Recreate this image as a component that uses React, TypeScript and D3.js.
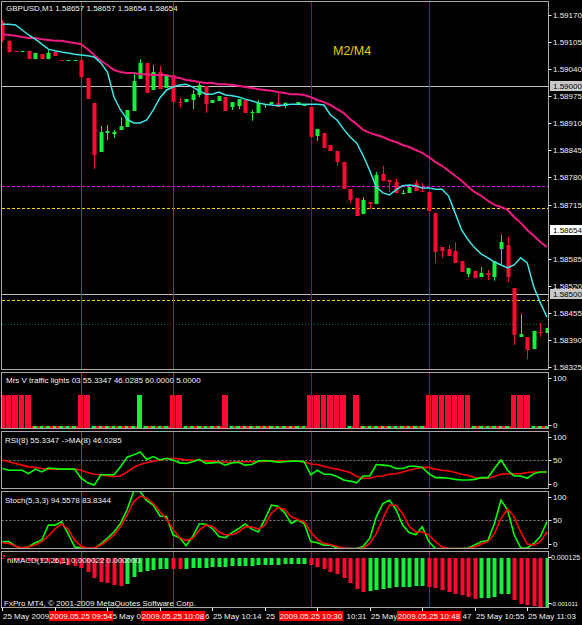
import React from 'react';
import * as d3 from 'd3';

// GBPUSD M1 candles: [open, high, low, close]
const candles: number[][] = [
  [1.59153, 1.59158, 1.59105, 1.5911], [1.59108, 1.5911, 1.59079, 1.59081], [1.59084, 1.59084, 1.59081, 1.59081],
  [1.59081, 1.59084, 1.59081, 1.59084], [1.59084, 1.59084, 1.59064, 1.59064], [1.59064, 1.59079, 1.59064, 1.59079],
  [1.59076, 1.59076, 1.59064, 1.59064], [1.59064, 1.59086, 1.59064, 1.59079], [1.59081, 1.59084, 1.59072, 1.59072],
  [1.59062, 1.59062, 1.5906, 1.5906], [1.5906, 1.59062, 1.5906, 1.59062], [1.5906, 1.59062, 1.5906, 1.59062],
  [1.59062, 1.59062, 1.59021, 1.59021], [1.59019, 1.59019, 1.58968, 1.58968], [1.58959, 1.58959, 1.588, 1.58834],
  [1.58841, 1.58904, 1.58841, 1.58889], [1.58887, 1.58906, 1.5887, 1.58892], [1.58885, 1.58894, 1.58875, 1.58889],
  [1.58894, 1.58925, 1.58894, 1.58904], [1.58902, 1.58942, 1.58902, 1.58942], [1.5894, 1.59033, 1.5894, 1.59012],
  [1.59016, 1.59064, 1.59016, 1.59055], [1.59055, 1.59055, 1.58983, 1.58983], [1.5899, 1.5905, 1.5899, 1.59033],
  [1.59033, 1.59048, 1.58992, 1.58992], [1.58995, 1.59024, 1.58995, 1.59024], [1.59026, 1.59026, 1.58961, 1.58961],
  [1.58961, 1.58971, 1.58949, 1.58959], [1.58961, 1.58968, 1.58961, 1.58968], [1.58966, 1.5899, 1.58944, 1.5898],
  [1.58978, 1.59007, 1.58973, 1.59002], [1.59, 1.59, 1.58935, 1.58956], [1.58959, 1.58966, 1.58959, 1.58966],
  [1.58964, 1.58976, 1.58964, 1.58976], [1.58973, 1.58973, 1.5894, 1.5894], [1.58949, 1.58961, 1.58942, 1.58961],
  [1.58952, 1.58968, 1.58944, 1.58968], [1.58966, 1.58966, 1.58935, 1.58935], [1.58935, 1.58942, 1.58916, 1.58937],
  [1.58935, 1.58966, 1.58935, 1.58959], [1.58954, 1.58956, 1.58947, 1.58956], [1.58956, 1.58961, 1.58956, 1.58961],
  [1.58959, 1.58983, 1.58949, 1.58949], [1.58952, 1.58961, 1.58947, 1.58959], [1.58954, 1.58956, 1.58954, 1.58956],
  [1.58954, 1.58961, 1.58954, 1.58961], [1.58952, 1.58956, 1.58952, 1.58956], [1.58949, 1.58949, 1.58877, 1.58877],
  [1.5888, 1.58896, 1.58868, 1.58896], [1.58887, 1.58887, 1.58851, 1.58851], [1.58858, 1.58858, 1.58844, 1.58844],
  [1.58844, 1.58844, 1.58808, 1.58817], [1.58817, 1.58817, 1.58752, 1.58752], [1.58752, 1.58752, 1.58719, 1.58726],
  [1.58731, 1.58731, 1.58688, 1.58688], [1.58692, 1.58733, 1.58692, 1.58726], [1.58721, 1.58721, 1.58704, 1.58716],
  [1.58716, 1.58793, 1.58716, 1.58786], [1.58788, 1.58808, 1.58772, 1.58772], [1.58774, 1.58774, 1.58745, 1.58769],
  [1.58769, 1.58776, 1.58743, 1.58743], [1.5874, 1.5875, 1.5874, 1.58743], [1.58743, 1.58757, 1.58743, 1.58757],
  [1.58767, 1.58774, 1.58748, 1.58748], [1.58748, 1.58767, 1.58745, 1.58745], [1.58745, 1.58745, 1.587, 1.587],
  [1.58695, 1.58695, 1.58575, 1.58601], [1.58613, 1.58613, 1.58587, 1.58604], [1.58608, 1.58618, 1.58592, 1.58592],
  [1.58604, 1.58625, 1.58575, 1.58575], [1.5858, 1.5858, 1.58554, 1.58554], [1.58548, 1.58563, 1.58541, 1.58563],
  [1.58556, 1.58556, 1.58539, 1.58539], [1.58541, 1.58565, 1.58541, 1.58551], [1.58551, 1.58558, 1.58534, 1.58546],
  [1.58541, 1.5858, 1.58532, 1.5858], [1.58608, 1.58642, 1.5857, 1.58625], [1.58618, 1.58637, 1.58529, 1.58541],
  [1.58515, 1.58515, 1.58378, 1.58402], [1.58397, 1.58452, 1.58397, 1.58404], [1.58397, 1.58397, 1.58344, 1.58366],
  [1.58368, 1.58412, 1.58368, 1.58412], [1.58409, 1.58431, 1.58397, 1.58407], [1.58407, 1.58419, 1.58407, 1.58419],
];

// fast moving average (cyan)
const maFast = [
  1.59148, 1.59148, 1.59146, 1.59134, 1.59122, 1.59112, 1.591, 1.59088, 1.59084, 1.59081,
  1.59079, 1.59076, 1.59074, 1.59072, 1.59069, 1.59055, 1.59033, 1.58973, 1.58942, 1.5892,
  1.58911, 1.58911, 1.58918, 1.58942, 1.58971, 1.5899, 1.58997, 1.59002, 1.59004, 1.58997,
  1.58988, 1.5898, 1.5898, 1.58985, 1.58978, 1.58976, 1.58973, 1.58968, 1.58964, 1.58959,
  1.58956, 1.58954, 1.58952, 1.58954, 1.58956, 1.58956, 1.58956, 1.58956, 1.58956, 1.58954,
  1.5893, 1.58918, 1.58896, 1.58877, 1.58863, 1.58832, 1.58796, 1.58757, 1.58743, 1.58738,
  1.5875, 1.5876, 1.58762, 1.5876, 1.58755, 1.58755, 1.58752, 1.58752, 1.58736, 1.58695,
  1.58654, 1.5863, 1.58611, 1.58596, 1.58587, 1.58577, 1.5857, 1.58563, 1.5857, 1.58587,
  1.58575, 1.58517, 1.58479, 1.58445,
];

// slow moving average (magenta)
const maSlow = [
  1.59124, 1.59122, 1.5912, 1.59117, 1.59115, 1.59115, 1.59112, 1.5911, 1.59108, 1.59108,
  1.59105, 1.59103, 1.591, 1.59088, 1.59074, 1.5906, 1.5905, 1.59038, 1.59033, 1.59031,
  1.59031, 1.59028, 1.59028, 1.59026, 1.59026, 1.59026, 1.59021, 1.59019, 1.59014, 1.59012,
  1.59009, 1.59007, 1.59007, 1.59004, 1.59004, 1.59002, 1.59, 1.58997, 1.58995, 1.58992,
  1.5899, 1.58988, 1.58985, 1.58983, 1.5898, 1.5898, 1.58978, 1.58973, 1.58966, 1.58961,
  1.58954, 1.58944, 1.58935, 1.5892, 1.58908, 1.58894, 1.58887, 1.58882, 1.58877, 1.5887,
  1.58865, 1.58858, 1.58853, 1.58846, 1.58839, 1.58829, 1.58817, 1.58808, 1.58796, 1.58784,
  1.58772, 1.58757, 1.58745, 1.58736, 1.58724, 1.58714, 1.58709, 1.58702, 1.58685, 1.58671,
  1.58654, 1.5864, 1.58625, 1.58613,
];

// Mrs V traffic lights
const lightRed = [
  60, 60, 60, 60, 60, 0, 0, 0, 0, 0, 0, 0, 60, 60, 0, 0, 0, 0, 0, 0,
  0, 0, 0, 0, 0, 0, 60, 60, 0, 0, 0, 0, 0, 0, 60, 0, 0, 0, 0, 0,
  0, 0, 0, 0, 0, 0, 0, 60, 60, 60, 60, 60, 60, 0, 60, 0, 0, 0, 0, 0,
  0, 0, 0, 0, 0, 60, 60, 60, 60, 60, 60, 60, 0, 0, 0, 0, 0, 0, 60, 60,
  60, 0, 0, 0,
];
const lightGreen = [
  0, 0, 0, 0, 0, 5, 5, 5, 5, 5, 5, 5, 0, 0, 5, 5, 5, 5, 5, 5,
  5, 60, 5, 5, 5, 5, 0, 0, 5, 5, 5, 5, 5, 5, 0, 5, 5, 5, 5, 5,
  5, 5, 5, 5, 5, 5, 5, 0, 0, 0, 0, 0, 0, 5, 0, 5, 5, 5, 5, 5,
  5, 5, 5, 5, 5, 0, 0, 0, 0, 0, 0, 0, 5, 5, 5, 5, 5, 5, 0, 0,
  0, 5, 5, 5,
];

const rsi = [
  35, 32, 32, 32, 26, 34, 29, 36, 35, 34, 34, 34, 18, 10, 6, 24, 24, 24, 38, 55,
  59, 64, 51, 56, 50, 53, 50, 45, 44, 47, 51, 44, 45, 46, 41, 45, 46, 41, 42, 48,
  49, 48, 46, 47, 48, 48, 47, 24, 32, 25, 25, 21, 15, 13, 10, 22, 22, 42, 41, 40,
  35, 35, 39, 39, 37, 26, 19, 19, 18, 16, 15, 15, 16, 19, 19, 35, 50, 32, 22, 22,
  18, 26, 29, 29,
];
const rsiMa = [
  50, 47, 44, 41, 38, 37, 35, 34, 34, 34, 34, 34, 32, 28, 25, 24, 22, 21, 22, 29,
  37, 42, 45, 48, 50, 52, 53, 52, 50, 50, 49, 48, 48, 47, 46, 46, 47, 47, 47, 47,
  48, 48, 48, 48, 48, 48, 47, 43, 42, 39, 36, 34, 31, 28, 21, 18, 18, 21, 22, 25,
  26, 29, 32, 35, 37, 37, 34, 32, 31, 28, 25, 23, 19, 18, 18, 21, 25, 26, 26, 26,
  28, 29, 29, 29,
];

const stochK = [
  12, 12, 4, 1, 3, 10, 15, 41, 41, 47, 26, 3, 1, 0, 0, 8, 18, 29, 44, 68,
  100, 100, 84, 76, 57, 56, 24, 19, 5, 21, 43, 43, 35, 21, 19, 28, 35, 43, 34, 29,
  51, 76, 74, 63, 44, 50, 44, 12, 10, 6, 6, 1, 0, 0, 0, 4, 18, 56, 79, 85,
  68, 41, 28, 24, 38, 12, 0, 0, 0, 0, 0, 1, 6, 12, 14, 44, 85, 68, 24, 1,
  1, 9, 21, 47,
];
const stochD = [
  10, 9, 4, 1, 3, 6, 12, 22, 34, 43, 34, 15, 4, 1, 1, 6, 14, 24, 38, 59,
  82, 92, 88, 79, 65, 52, 34, 19, 14, 18, 32, 41, 39, 29, 24, 24, 29, 38, 38, 34,
  41, 62, 72, 69, 56, 51, 47, 29, 16, 9, 7, 4, 1, 0, 0, 1, 9, 26, 53, 76,
  76, 61, 39, 29, 29, 24, 12, 3, 0, 0, 0, 0, 3, 8, 12, 26, 53, 69, 56, 29,
  8, 6, 12, 29,
];

const macd = [
  -0.00003, -0.000035, -0.000045, -0.00005, -0.00006, -0.000066, -0.000075, -0.00008, -0.0001, -0.000127,
  -0.000148, -0.000168, -0.000216, -0.000285, -0.000421, -0.000491, -0.000524, -0.000545, -0.00057, -0.000535,
  -0.000397, -0.000285, -0.000265, -0.00025, -0.000236, -0.000225, -0.000235, -0.00024, -0.000225, -0.000212,
  -0.000205, -0.0002, -0.000192, -0.000185, -0.00018, -0.000176, -0.00017, -0.000166, -0.00016, -0.000156,
  -0.00015, -0.000146, -0.000142, -0.000136, -0.00013, -0.000124, -0.00012, -0.00015, -0.000183, -0.00023,
  -0.000285, -0.000333, -0.000421, -0.000524, -0.000627, -0.000696, -0.00068, -0.00066, -0.00064, -0.000625,
  -0.000605, -0.000595, -0.000585, -0.00057, -0.000565, -0.00059, -0.00062, -0.000648, -0.000696, -0.00073,
  -0.000764, -0.000799, -0.000832, -0.000825, -0.000815, -0.00079, -0.000745, -0.00073, -0.00085, -0.00094,
  -0.00097, -0.00099, -0.001011, -0.001,
];

const priceTicks = [
  1.5917, 1.59105, 1.5904, 1.58975, 1.5891, 1.58845, 1.5878, 1.58715,
  1.58585, 1.5852, 1.58455, 1.5839, 1.58325,
];
const markedPrices = [1.59, 1.58654, 1.585];

const levelSilver = [1.59, 1.585];
const levelMagenta = [1.5876];
const levelGold = [1.58707, 1.58486];
const levelGreen = [1.58428];

const timeTickBars = [0, 8, 16, 24, 32, 40, 48, 56, 64, 72, 80];
const timeTickText = [
  '25 May 2009', '25 May 09:50', '25 May 09:58', '25 May 10:06', '25 May 10:14', '25 May 10:23',
  '25 May 10:31', '25 May 10:39', '25 May 10:47', '25 May 10:55', '25 May 11:03',
];

const vlineBars = [12, 26, 47, 65];
const vlineText = ['2009.05.25 09:54', '2009.05.25 10:08', '2009.05.25 10:30', '2009.05.25 10:48'];

const FONT = '"Liberation Sans", Arial, sans-serif';
const RED = '#ff0a32';
const GREEN = '#14f03c';
const FRAME = '#a8a8a8';
const TXT = '#f0f0f0';
const BOX_HALF = 32;

const panels = [
  { id: 'main', top: 1.5, bottom: 369.5 },
  { id: 'lights', top: 372.5, bottom: 428.5 },
  { id: 'rsi', top: 431.5, bottom: 488.5 },
  { id: 'stoch', top: 491.5, bottom: 548.5 },
  { id: 'macd', top: 551.5, bottom: 607.5 },
];
const LEFT = 1.5;
const RIGHT = 548.5;

let measureCtx: CanvasRenderingContext2D | null = null;
function measure(s: string) {
  if (!measureCtx) {
    measureCtx = document.createElement('canvas').getContext('2d');
    if (measureCtx) measureCtx.font = '8px "Liberation Sans", Arial, sans-serif';
  }
  return measureCtx ? measureCtx.measureText(s).width : s.length * 4.4;
}

// pieces of a time label that are not covered by the red vertical-line boxes
function visibleRuns(text: string, x0: number, boxes: number[][]) {
  const runs: { x: number; s: string }[] = [];
  let cur: { x: number; s: string } | null = null;
  for (let k = 0; k < text.length; k++) {
    const a = x0 + measure(text.slice(0, k));
    const b = x0 + measure(text.slice(0, k + 1));
    const mid = (a + b) / 2;
    const hidden = boxes.some(([l, r]) => mid > l - 1 && mid < r + 1);
    if (!hidden) {
      if (!cur) cur = { x: a, s: '' };
      cur.s += text[k];
    } else if (cur) {
      runs.push(cur);
      cur = null;
    }
  }
  if (cur) runs.push(cur);
  return runs
    .map((r) => {
      const lead = r.s.length - r.s.trimStart().length;
      return { x: r.x + measure(r.s.slice(0, lead)), s: r.s.trim() };
    })
    .filter((r) => r.s.length > 0);
}

export default function App() {
  const x = d3.scaleLinear().domain([0, 83]).range([2.44, 546.92]);
  const step = x(1) - x(0);
  const yMain = d3.scaleLinear().domain([1.5917, 1.58325]).range([15, 367]);
  const yLights = d3.scaleLinear().domain([0, 100]).range([428.5, 372.5]);
  const yRsi = d3.scaleLinear().domain([0, 100]).range([488.5, 431.5]);
  const yStoch = d3.scaleLinear().domain([0, 100]).range([548.5, 491.5]);
  const yMacd = d3.scaleLinear().domain([-0.001011, 0.000125]).range([607.5, 551.5]);

  const lineOf = (y: d3.ScaleLinear<number, number>) =>
    d3.line<number>().x((_, i) => x(i)).y((v) => y(v));

  const px = (i: number) => Math.round(x(i));
  const fmt = d3.format('.5f');

  const vlineColor = (k: number) => (k < 2 ? '#ff0000' : '#880a78');

  const vlines = (top: number, bottom: number) =>
    vlineBars.map((b, k) => (
      <line key={'v' + k} x1={px(b) + 0.5} x2={px(b) + 0.5} y1={top} y2={bottom}
        stroke={vlineColor(k)} strokeWidth={1} shapeRendering="crispEdges" />
    ));

  const hline = (p: number, color: string, dash: string | undefined, key: string) => (
    <line key={key} x1={LEFT} x2={RIGHT} y1={Math.round(yMain(p)) + 0.5} y2={Math.round(yMain(p)) + 0.5}
      stroke={color} strokeDasharray={dash} shapeRendering="crispEdges" />
  );

  const rightLabel = (y: number, text: string, key: string, fs = 8, tx = 553) => (
    <g key={key}>
      <line x1={RIGHT} x2={RIGHT + 3} y1={Math.round(y) + 0.5} y2={Math.round(y) + 0.5} stroke={TXT} />
      <text x={tx} y={y + 3} fill={TXT} fontSize={fs}>{text}</text>
    </g>
  );

  const boxes = vlineBars.map((b) => [px(b) - BOX_HALF, px(b) + BOX_HALF]);

  return (
    <svg width={582} height={625} style={{ position: 'absolute', left: 0, top: 0, background: '#000' }}
      fontFamily={FONT}>
      <rect x={0} y={0} width={582} height={625} fill="#000" />
      <defs>
        {panels.map((p) => (
          <clipPath id={'clip-' + p.id} key={p.id}>
            <rect x={LEFT} y={p.top} width={RIGHT - LEFT} height={p.bottom - p.top} />
          </clipPath>
        ))}
      </defs>

      {/* main chart */}
      <g clipPath="url(#clip-main)">
        {levelSilver.map((p, i) => hline(p, '#c0c0c0', undefined, 's' + i))}
        {levelMagenta.map((p, i) => hline(p, '#ff00ff', '3,2', 'm' + i))}
        {levelGold.map((p, i) => hline(p, '#ffd700', '3,2', 'g' + i))}
        {levelGreen.map((p, i) => hline(p, '#0a6a48', '1,2', 'd' + i))}
        {vlines(panels[0].top, panels[0].bottom)}
        {candles.map(([o, h, l, c], i) => {
          const cx = px(i);
          const col = c >= o ? GREEN : RED;
          const top = Math.round(yMain(Math.max(o, c)));
          const bot = Math.round(yMain(Math.min(o, c)));
          return (
            <g key={i}>
              <line x1={cx + 0.5} x2={cx + 0.5} y1={yMain(h)} y2={yMain(l)} stroke={col} />
              <rect x={cx - 1.5} y={top} width={4} height={Math.max(1, bot - top)} fill={col} />
            </g>
          );
        })}
        <path d={lineOf(yMain)(maSlow) || ''} fill="none" stroke="#f01882" strokeWidth={2} />
        <path d={lineOf(yMain)(maFast) || ''} fill="none" stroke="#3ce6e6" strokeWidth={1.5} />
        <text x={6} y={10.5} fill={TXT} fontSize={8}>GBPUSD,M1  1.58657 1.58657 1.58654 1.58654</text>
        <text x={333} y={55} fill="#e8cc00" fontSize={12.5}>M2/M4</text>
      </g>

      {/* traffic lights */}
      <g clipPath="url(#clip-lights)">
        {lightGreen.map((v, i) => {
          if (v <= 0) return null;
          const l = Math.round(x(i) - step / 2);
          const r = Math.round(x(i + 1) - step / 2);
          const y = Math.round(yLights(v));
          if (v < 10) {
            return (
              <g key={'lg' + i}>
                <rect x={l} y={y} width={r - l} height={yLights(0) - y} fill={RED} />
                <rect x={l + 1} y={y} width={r - l - 3} height={yLights(0) - y} fill={GREEN} />
              </g>
            );
          }
          return <rect key={'lg' + i} x={l} y={y} width={r - l - 1} height={yLights(0) - y} fill={GREEN} />;
        })}
        {lightRed.map((v, i) => {
          if (v <= 0) return null;
          const l = Math.round(x(i) - step / 2);
          const r = Math.round(x(i + 1) - step / 2);
          const y = Math.round(yLights(v));
          return <rect key={'lr' + i} x={l} y={y} width={r - l - 1} height={yLights(0) - y} fill={RED} />;
        })}
        {vlines(panels[1].top, panels[1].bottom)}
        <text x={6} y={383} fill={TXT} fontSize={8}>Mrs V traffic lights 03 55.3347 46.0285 60.0000 5.0000</text>
      </g>

      {/* RSI */}
      <g clipPath="url(#clip-rsi)">
        <line x1={LEFT} x2={RIGHT} y1={Math.round(yRsi(50)) + 0.5} y2={Math.round(yRsi(50)) + 0.5}
          stroke="#8a8a8a" strokeDasharray="2,2" />
        {vlines(panels[2].top, panels[2].bottom)}
        <path d={lineOf(yRsi)(rsiMa) || ''} fill="none" stroke="#ff0000" strokeWidth={1.6} />
        <path d={lineOf(yRsi)(rsi) || ''} fill="none" stroke="#00ff00" strokeWidth={1.6} />
        <text x={5} y={442.5} fill={TXT} fontSize={8}>RSI(8) 55.3347  -&gt;MA(8) 46.0285</text>
      </g>

      {/* Stochastic */}
      <g clipPath="url(#clip-stoch)">
        <line x1={LEFT} x2={RIGHT} y1={Math.round(yStoch(50)) + 0.5} y2={Math.round(yStoch(50)) + 0.5}
          stroke="#8a8a8a" strokeDasharray="2,2" />
        {vlines(panels[3].top, panels[3].bottom)}
        <path d={lineOf(yStoch)(stochK) || ''} fill="none" stroke="#00ff00" strokeWidth={1.6} />
        <path d={lineOf(yStoch)(stochD) || ''} fill="none" stroke="#ff0000" strokeWidth={1.6} />
        <text x={5} y={502.5} fill={TXT} fontSize={8}>Stoch(5,3,3) 94.5578 83.8344</text>
      </g>

      {/* MACD histogram */}
      <g clipPath="url(#clip-macd)">
        {vlines(panels[4].top, panels[4].bottom)}
        {macd.map((v, i) => {
          const prev = i > 0 ? macd[i - 1] : 0;
          const col = v > prev ? GREEN : RED;
          const y0 = Math.round(yMacd(0));
          const y1 = Math.round(yMacd(v));
          return (
            <rect key={'m' + i} x={px(i) - 1.5} y={Math.min(y0, y1)} width={4}
              height={Math.max(1, Math.abs(y1 - y0))} fill={col} />
          );
        })}
        <rect x={3} y={555} width={2} height={2} fill={RED} />
        <text x={7} y={562.5} fill={TXT} fontSize={8}>niMACD(12,26,1) 0.000022 0.000000</text>
        <text x={4} y={606} fill={TXT} fontSize={8}>FxPro MT4, © 2001-2009 MetaQuotes Software Corp.</text>
      </g>

      {/* frames */}
      {panels.map((p) => (
        <rect key={'f' + p.id} x={LEFT} y={p.top} width={RIGHT - LEFT} height={p.bottom - p.top}
          fill="none" stroke={FRAME} />
      ))}

      {/* price axis */}
      {priceTicks.map((p, i) => rightLabel(yMain(p), fmt(p), 'pt' + i))}
      {markedPrices.map((p, i) => {
        const y = Math.round(yMain(p));
        return (
          <g key={'mk' + i}>
            <rect x={550} y={y - 5} width={32} height={10} fill={i === 1 ? '#ffffff' : '#c8c8c8'} />
            <text x={553} y={y + 3} fill="#000" fontSize={8}>{fmt(p)}</text>
          </g>
        );
      })}

      {/* indicator scales */}
      {rightLabel(yLights(100) + 5, '100', 'l100')}
      {rightLabel(yLights(0) - 4, '0', 'l0')}
      {rightLabel(yRsi(100) + 5, '100', 'r100')}
      {rightLabel(yRsi(50), '50', 'r50')}
      {rightLabel(yRsi(0) - 5, '0', 'r0')}
      {rightLabel(yStoch(100) + 5, '100', 's100')}
      {rightLabel(yStoch(50), '50', 's50')}
      {rightLabel(yStoch(0) - 5, '0', 's0')}
      {rightLabel(yMacd(0.000125) + 5.5, '0.000125', 'mtop', 7, 551)}
      {rightLabel(yMacd(-0.001011) - 5, '-0.001011', 'mbot', 6.2, 550.5)}

      {/* time axis */}
      {timeTickBars.map((b, i) => (
        <g key={'t' + i}>
          <line x1={px(b) + 0.5} x2={px(b) + 0.5} y1={607.5} y2={611} stroke={TXT} />
          {visibleRuns(timeTickText[i], px(b) + 1, boxes).map((r, k) => (
            <text key={k} x={r.x} y={619} fill={TXT} fontSize={8}>{r.s}</text>
          ))}
        </g>
      ))}
      {vlineBars.map((b, i) => (
        <g key={'vl' + i}>
          <rect x={px(b) - BOX_HALF} y={611} width={BOX_HALF * 2} height={10} fill="#ff0000" />
          <text x={px(b)} y={619} fill="#fff" fontSize={8} textAnchor="middle">{vlineText[i]}</text>
        </g>
      ))}
    </svg>
  );
}
